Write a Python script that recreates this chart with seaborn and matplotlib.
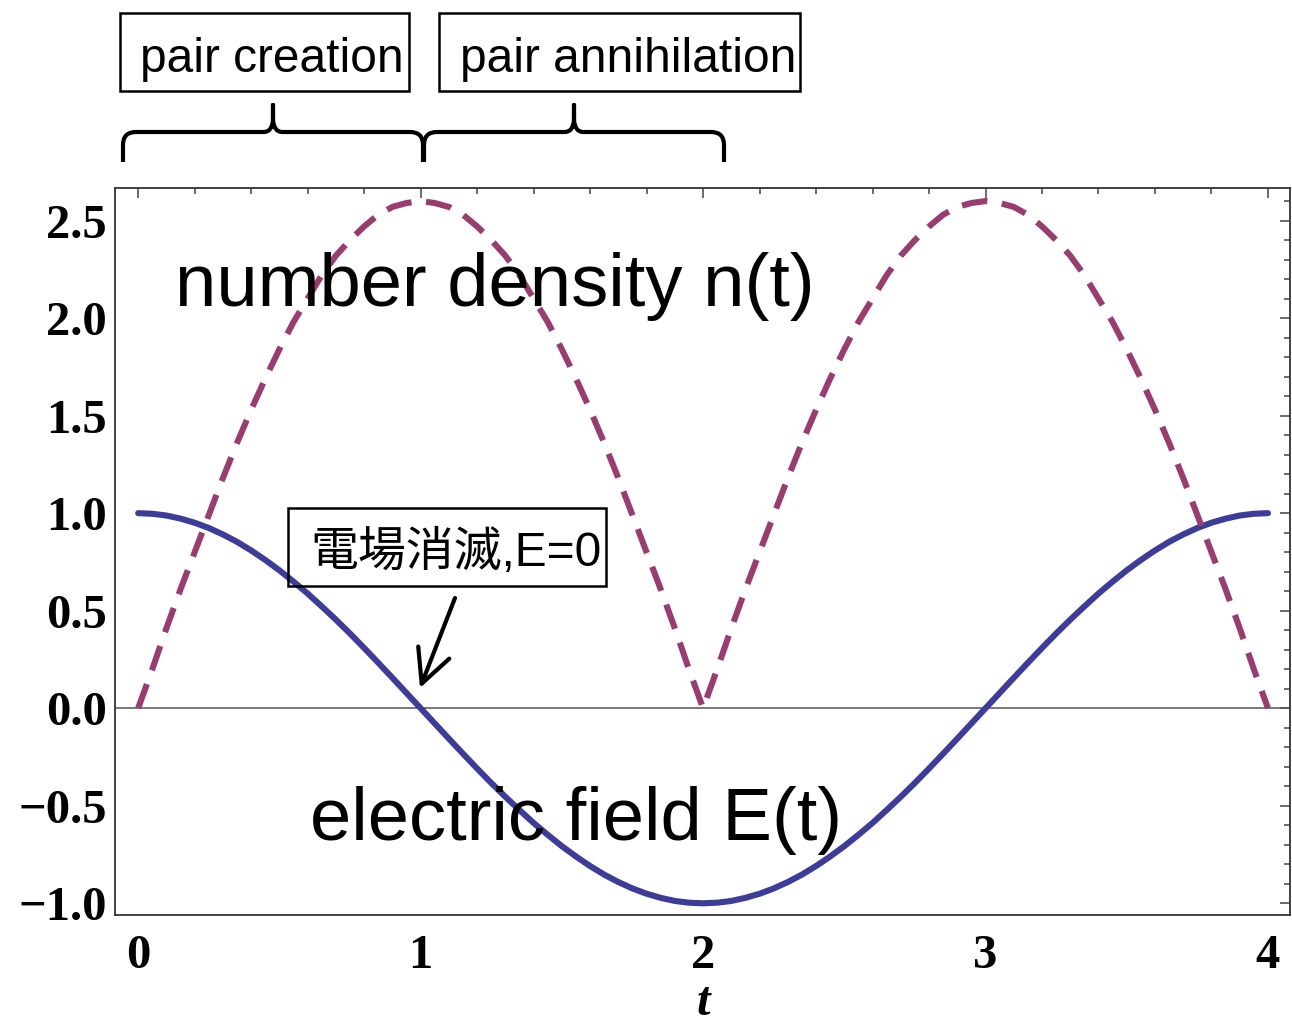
import numpy as np
import pandas as pd
import seaborn as sns
import matplotlib.pyplot as plt
from matplotlib.path import Path
from matplotlib.patches import PathPatch, Rectangle
from matplotlib.transforms import Affine2D
from matplotlib.ticker import MultipleLocator

# values (t in steps of 0.05)
t = [0.00, 0.05, 0.10, 0.15, 0.20, 0.25, 0.30, 0.35, 0.40, 0.45, 0.50, 0.55, 0.60, 0.65, 0.70, 0.75, 0.80, 0.85, 0.90, 0.95,
     1.00, 1.05, 1.10, 1.15, 1.20, 1.25, 1.30, 1.35, 1.40, 1.45, 1.50, 1.55, 1.60, 1.65, 1.70, 1.75, 1.80, 1.85, 1.90, 1.95,
     2.00, 2.05, 2.10, 2.15, 2.20, 2.25, 2.30, 2.35, 2.40, 2.45, 2.50, 2.55, 2.60, 2.65, 2.70, 2.75, 2.80, 2.85, 2.90, 2.95,
     3.00, 3.05, 3.10, 3.15, 3.20, 3.25, 3.30, 3.35, 3.40, 3.45, 3.50, 3.55, 3.60, 3.65, 3.70, 3.75, 3.80, 3.85, 3.90, 3.95,
     4.00]

E_field = [1.000, 0.997, 0.988, 0.972, 0.951, 0.924, 0.891, 0.853, 0.809, 0.760, 0.707, 0.649, 0.588, 0.522, 0.454, 0.383, 0.309, 0.233, 0.156, 0.078,
           0.000, -0.078, -0.156, -0.233, -0.309, -0.383, -0.454, -0.522, -0.588, -0.649, -0.707, -0.760, -0.809, -0.853, -0.891, -0.924, -0.951, -0.972, -0.988, -0.997,
           -1.000, -0.997, -0.988, -0.972, -0.951, -0.924, -0.891, -0.853, -0.809, -0.760, -0.707, -0.649, -0.588, -0.522, -0.454, -0.383, -0.309, -0.233, -0.156, -0.078,
           0.000, 0.078, 0.156, 0.233, 0.309, 0.383, 0.454, 0.522, 0.588, 0.649, 0.707, 0.760, 0.809, 0.853, 0.891, 0.924, 0.951, 0.972, 0.988, 0.997,
           1.000]

n_density = [0.00, 0.20, 0.41, 0.61, 0.80, 0.99, 1.18, 1.36, 1.53, 1.69, 1.84, 1.98, 2.10, 2.22, 2.32, 2.40, 2.47, 2.53, 2.57, 2.59,
             2.60, 2.59, 2.57, 2.53, 2.47, 2.40, 2.32, 2.22, 2.10, 1.98, 1.84, 1.69, 1.53, 1.36, 1.18, 0.99, 0.80, 0.61, 0.41, 0.20,
             0.00, 0.20, 0.41, 0.61, 0.80, 0.99, 1.18, 1.36, 1.53, 1.69, 1.84, 1.98, 2.10, 2.22, 2.32, 2.40, 2.47, 2.53, 2.57, 2.59,
             2.60, 2.59, 2.57, 2.53, 2.47, 2.40, 2.32, 2.22, 2.10, 1.98, 1.84, 1.69, 1.53, 1.36, 1.18, 0.99, 0.80, 0.61, 0.41, 0.20,
             0.00]

x_ticks = [0, 1, 2, 3, 4]
y_ticks = [-1.0, -0.5, 0.0, 0.5, 1.0, 1.5, 2.0, 2.5]

sns.set_theme(style='white')
plt.rcParams['font.family'] = ['Liberation Sans', 'Noto Sans CJK JP', 'DejaVu Sans']
plt.rcParams['text.color'] = 'black'

W, H = 1292, 1027
fig = plt.figure(figsize=(W / 100, H / 100), dpi=100)
# pixel coordinates (origin top-left) -> figure
pix = Affine2D().scale(1 / W, -1 / H).translate(0, 1) + fig.transFigure

ax = fig.add_axes([115 / W, 1 - 915 / H, (1290 - 115) / W, (915 - 188) / H])

df = pd.DataFrame({'t': t, 'E': E_field, 'n': n_density})

ax.axhline(0, color='#555555', lw=1.1, zorder=1)
sns.lineplot(data=df, x='t', y='E', ax=ax, color='#3D3D99', linewidth=4.4, zorder=2)
sns.lineplot(data=df, x='t', y='n', ax=ax, color='#993D71', linewidth=4.4,
             linestyle=(0, (4.2, 2.4)), zorder=3)
ax.set_xlabel('')
ax.set_ylabel('')

ax.set_xlim(-0.082, 4.078)
ax.set_ylim(-1.06, 2.667)
ax.set_xticks(x_ticks)
ax.set_xticklabels([str(v) for v in x_ticks])
ax.set_yticks(y_ticks)
ax.set_yticklabels([f'{v:.1f}'.replace('-', '\u2212') for v in y_ticks])
ax.xaxis.set_minor_locator(MultipleLocator(0.2))
ax.yaxis.set_minor_locator(MultipleLocator(0.1))
ax.tick_params(which='both', direction='in', top=True, right=True,
               color='#444444', labelcolor='black', width=1.1)
ax.tick_params(which='major', length=7.5)
ax.tick_params(which='minor', length=4.3)
ax.tick_params(axis='y', pad=6)
ax.tick_params(axis='x', pad=14)
for lab in ax.get_xticklabels() + ax.get_yticklabels():
    lab.set_fontfamily('Liberation Serif')
    lab.set_fontweight('bold')
    lab.set_fontsize(35)
for sp in ax.spines.values():
    sp.set_color('#333333')
    sp.set_linewidth(1.3)

fig.text(703, 1015, 't', transform=pix, ha='center', va='baseline',
         family='Liberation Serif', weight='bold', style='italic', fontsize=35)

# curve labels
fig.text(175, 306, 'number density n(t)', transform=pix, fontsize=53.5, va='baseline')
fig.text(310, 840, 'electric field E(t)', transform=pix, fontsize=53.5, va='baseline')

# framed labels
for (x0, y0, w, h), (tx, ty), s in [((120, 13, 289, 78), (140, 72), 'pair creation'),
                                    ((439, 13, 361, 78), (460, 72), 'pair annihilation'),
                                    ((288, 508, 318, 78), (310, 566), '電場消滅,E=0')]:
    fig.add_artist(Rectangle((x0, y0), w, h, transform=pix, fill=False, ec='black', lw=1.8))
    fig.text(tx, ty, s, transform=pix, fontsize=34.5, va='baseline')

# arrow to E=0
ax.annotate('', xy=(420, 688), xytext=(455, 598), xycoords=pix, textcoords=pix,
            arrowprops=dict(arrowstyle='->,head_length=0.6,head_width=0.3', lw=3,
                            color='black', mutation_scale=40, shrinkA=0, shrinkB=0))


def brace(x0, x1, xm, yb=162, ym=132, yt=105):
    verts = [(x0, yb), (x0, ym + 13), (x0, ym), (x0 + 13, ym), (xm - 9, ym),
             (xm - 1, ym), (xm, ym - 12), (xm, yt), (xm, ym - 12), (xm + 1, ym),
             (xm + 9, ym), (x1 - 13, ym), (x1, ym), (x1, ym + 13), (x1, yb)]
    codes = [Path.MOVETO, Path.LINETO, Path.CURVE3, Path.CURVE3, Path.LINETO,
             Path.CURVE3, Path.CURVE3, Path.LINETO, Path.LINETO, Path.CURVE3,
             Path.CURVE3, Path.LINETO, Path.CURVE3, Path.CURVE3, Path.LINETO]
    fig.add_artist(PathPatch(Path(verts, codes), transform=pix, fill=False,
                             ec='black', lw=3, capstyle='butt', joinstyle='round'))


brace(123, 423, 273)
brace(424, 724, 574)

fig.savefig('out.png', dpi=100)
